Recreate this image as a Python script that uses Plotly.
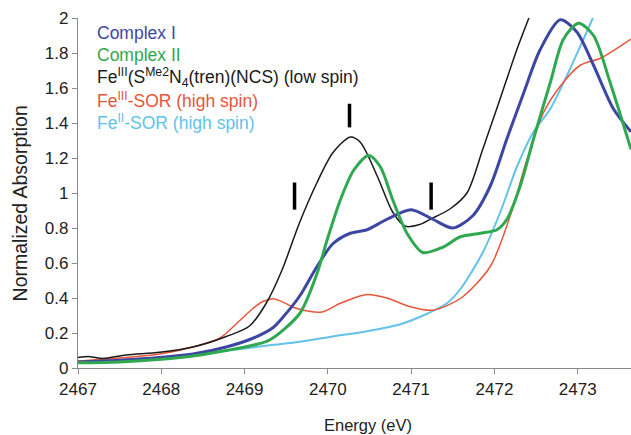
import plotly.graph_objects as go

# ---- data ----
names = ["Complex I", "Complex II",
         "Fe<sup>III</sup>(S<sup>Me2</sup>N<sub>4</sub>(tren)(NCS) (low spin)",
         "Fe<sup>III</sup>-SOR (high spin)",
         "Fe<sup>II</sup>-SOR (high spin)"]

blue_x = [2467, 2467.5, 2467.98, 2468.38, 2468.78, 2469.1, 2469.34, 2469.46, 2469.66, 2469.87,
          2470.06, 2470.27, 2470.47, 2470.71, 2471.0, 2471.26, 2471.5, 2471.74, 2471.95, 2472.15,
          2472.35, 2472.55, 2472.79, 2472.99, 2473.19, 2473.43, 2473.64]
blue_y = [0.035, 0.045, 0.06, 0.08, 0.12, 0.17, 0.23, 0.29, 0.41, 0.58,
          0.71, 0.77, 0.79, 0.85, 0.905, 0.85, 0.80, 0.87, 1.04, 1.31,
          1.57, 1.82, 1.99, 1.92, 1.73, 1.48, 1.35]

green_x = [2467, 2467.5, 2468, 2468.4, 2468.78, 2469.1, 2469.3, 2469.66, 2469.87, 2469.99,
           2470.15, 2470.31, 2470.49, 2470.63, 2470.78, 2470.95, 2471.14, 2471.38, 2471.59, 2471.83,
           2472.03, 2472.15, 2472.31, 2472.47, 2472.67, 2472.83, 2473.01, 2473.19, 2473.39, 2473.64]
green_y = [0.03, 0.035, 0.05, 0.07, 0.10, 0.13, 0.16, 0.31, 0.54, 0.73,
           0.96, 1.13, 1.215, 1.15, 0.96, 0.77, 0.66, 0.69, 0.75, 0.77,
           0.79, 0.85, 1.04, 1.31, 1.63, 1.88, 1.97, 1.90, 1.63, 1.25]

black_x = [2467, 2467.14, 2467.3, 2467.58, 2467.98, 2468.38, 2468.78, 2469.06, 2469.26, 2469.45,
           2469.66, 2469.87, 2470.06, 2470.27, 2470.39, 2470.59, 2470.78, 2470.93, 2471.1, 2471.23,
           2471.47, 2471.67, 2471.86, 2472.07, 2472.27, 2472.43]
black_y = [0.06, 0.065, 0.055, 0.075, 0.09, 0.12, 0.18, 0.24, 0.37, 0.56,
           0.83, 1.06, 1.23, 1.32, 1.29, 1.10, 0.89, 0.81, 0.82, 0.85,
           0.91, 1.00, 1.25, 1.54, 1.82, 2.02]

red_x = [2467, 2467.58, 2467.98, 2468.38, 2468.7, 2468.94, 2469.1, 2469.22, 2469.36, 2469.63,
         2469.93, 2470.15, 2470.47, 2470.71, 2470.99, 2471.26, 2471.6, 2471.95, 2472.19, 2472.39,
         2472.59, 2472.79, 2473.03, 2473.27, 2473.64]
red_y = [0.04, 0.06, 0.08, 0.12, 0.17, 0.27, 0.34, 0.38, 0.395, 0.34,
         0.32, 0.37, 0.42, 0.40, 0.35, 0.33, 0.40, 0.58, 0.87, 1.19,
         1.46, 1.61, 1.73, 1.77, 1.88]

cyan_x = [2467, 2467.5, 2468, 2468.4, 2468.8, 2469.3, 2469.66, 2470.06, 2470.47, 2470.87,
          2471.19, 2471.43, 2471.59, 2471.86, 2472.07, 2472.27, 2472.47, 2472.67, 2472.87, 2473.07,
          2473.21]
cyan_y = [0.035, 0.045, 0.06, 0.08, 0.10, 0.13, 0.15, 0.18, 0.21, 0.25,
          0.31, 0.37, 0.45, 0.66, 0.89, 1.15, 1.35, 1.48, 1.67, 1.88,
          2.03]

# feature marker bars
bar_x = [2469.6, 2470.26, 2471.24]
bar_y0 = [0.905, 1.375, 0.905]
bar_y1 = [1.06, 1.51, 1.06]

x_ticks = [2467, 2468, 2469, 2470, 2471, 2472, 2473]
y_ticks = [0, 0.2, 0.4, 0.6, 0.8, 1, 1.2, 1.4, 1.6, 1.8, 2]

colors = ["#3d47a3", "#2fa84f", "#1a1a1a", "#e8563a", "#62c2ea"]
widths = [3, 3, 1.5, 1.5, 2]
series = [(blue_x, blue_y), (green_x, green_y), (black_x, black_y), (red_x, red_y), (cyan_x, cyan_y)]
draw_order = [4, 3, 2, 0, 1]

FONT = "Liberation Sans, Arial, sans-serif"

fig = go.Figure()
for i in draw_order:
    xs, ys = series[i]
    fig.add_trace(go.Scatter(x=xs, y=ys, mode="lines", name=names[i],
                             line=dict(color=colors[i], width=widths[i], shape="spline", smoothing=0.8),
                             showlegend=False))

for bx, a, b in zip(bar_x, bar_y0, bar_y1):
    fig.add_shape(type="line", x0=bx, x1=bx, y0=a, y1=b, xref="x", yref="y",
                  line=dict(color="black", width=3.5))

# text-only legend
for k, (nm, c) in enumerate(zip(names, colors)):
    fig.add_annotation(x=0.03, y=0.957 - k * 0.0635, xref="paper", yref="paper",
                       text=nm, showarrow=False, xanchor="left", yanchor="middle",
                       font=dict(family=FONT, size=17.5, color=c))

# axis titles
fig.add_annotation(x=-0.105, y=0.47, xref="paper", yref="paper", text="Normalized Absorption",
                   showarrow=False, textangle=-90, xanchor="center", yanchor="middle",
                   font=dict(family=FONT, size=19.5, color="#222"))
fig.add_annotation(x=0.525, y=-0.162, xref="paper", yref="paper", text="Energy (eV)",
                   showarrow=False, xanchor="center", yanchor="middle",
                   font=dict(family=FONT, size=16.5, color="#222"))

fig.update_layout(
    width=631, height=435,
    margin=dict(l=78, r=0, t=18, b=67),
    paper_bgcolor="white", plot_bgcolor="white",
    font=dict(family=FONT, size=17, color="#222"),
    xaxis=dict(range=[2467, 2473.64], tickvals=x_ticks, ticktext=[str(v) for v in x_ticks],
               showgrid=False, zeroline=False, showline=True, linecolor="#8a8a8a", linewidth=1.2,
               ticks="outside", ticklen=5, tickcolor="#8a8a8a", automargin=False),
    yaxis=dict(range=[0, 2], tickvals=y_ticks, ticktext=[f"{v:g}" for v in y_ticks],
               showgrid=False, zeroline=False, showline=True, linecolor="#8a8a8a", linewidth=1.2,
               ticks="outside", ticklen=5, tickcolor="#8a8a8a", automargin=False),
)

fig.write_html("out.html", config={"displayModeBar": False},
               post_script="document.body.style.margin='0';document.body.style.padding='0';"
                           "document.body.style.overflow='hidden';")
